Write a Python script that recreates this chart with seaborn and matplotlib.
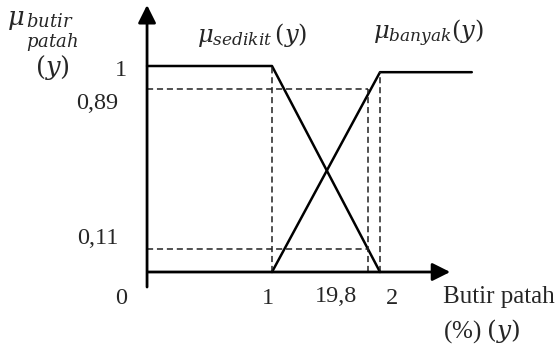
import matplotlib
matplotlib.use("Agg")
import matplotlib.pyplot as plt
import seaborn as sns
import pandas as pd

# membership functions
x_left = -0.157
x_end = 2.85
sedikit_x = [x_left, 1, 2]
sedikit_y = [1, 1, 0]
banyak_x = [1, 2, x_end]
banyak_y = [0, 0.97, 0.97]

y_cut = 1.89
mu_high = 0.89
mu_low = 0.11

xtick_labels = ["1", "19,8", "2"]
ytick_labels = ["1", "0,89", "0,11", "0"]

sns.set_theme(style="white")
plt.rcParams["font.family"] = ["Liberation Serif", "DejaVu Serif"]
plt.rcParams["mathtext.fontset"] = "dejavuserif"

W, H = 556, 349
fig = plt.figure(figsize=(W / 100, H / 100), dpi=100)
ax = fig.add_axes([0, 0, 1, 1])
ax.set_axis_off()
# pixel 272 -> x=1, 108 px per unit; pixel row 272 -> y=0, 206 px per unit
ax.set_xlim(1 - 272 / 108, 1 + (W - 272) / 108)
ax.set_ylim((272 - H) / 206, 272 / 206)

df = pd.concat([
    pd.DataFrame({"x": sedikit_x, "y": sedikit_y, "set": "sedikit"}),
    pd.DataFrame({"x": banyak_x, "y": banyak_y, "set": "banyak"}),
])
sns.lineplot(data=df, x="x", y="y", units="set", estimator=None, sort=False,
             color="black", lw=1.8, ax=ax)

# dashed helper lines
dash = dict(color="#222222", lw=1.1, ls=(0, (4, 2.5)))
ax.plot([x_left, y_cut], [mu_high, mu_high], **dash)
ax.plot([x_left, y_cut], [mu_low, mu_low], **dash)
ax.plot([1, 1], [0, 1], **dash)
ax.plot([y_cut, y_cut], [0, mu_high], **dash)
ax.plot([2, 2], [0, banyak_y[1]], **dash)

# axes with arrows
arrow = dict(arrowstyle="-|>,head_length=0.6,head_width=0.3", lw=2.0,
             color="black", mutation_scale=18, shrinkA=0, shrinkB=0)
ax.annotate("", xy=(x_left, 1.296), xytext=(x_left, -0.073), arrowprops=arrow)
ax.annotate("", xy=(2.65, 0), xytext=(x_left + 0.01, 0), arrowprops=arrow)


def ptext(px, py, s, size=17.5, ha="center", **kw):
    fig.text(px / W, 1 - py / H, s, ha=ha, va="center", fontsize=size, **kw)


# y tick labels
ptext(121, 71, ytick_labels[0])
ptext(97, 103, ytick_labels[1])
ptext(98, 239, ytick_labels[2])
ptext(121, 298, ytick_labels[3])
# x tick labels
ptext(268, 299, xtick_labels[0])
ptext(336, 297, xtick_labels[1])
ptext(392, 298, xtick_labels[2])

# axis titles
ptext(16, 21, r"$\mu$", size=18.5)
ptext(50, 22, r"$\mathit{butir}$", size=13)
ptext(52, 42, r"$\mathit{patah}$", size=13)
ptext(52, 67, r"$(y)$", size=18.5)
ptext(443, 297, "Butir patah", size=18, ha="left")
ptext(443, 331, r"(%) $(y)$", size=18, ha="left")

# set labels
ptext(252, 35, r"$\mu_{sedikit}\,(y)$", size=17.5)
ptext(428, 33, r"$\mu_{banyak}(y)$", size=17.5)

fig.savefig("out.png", dpi=100)
